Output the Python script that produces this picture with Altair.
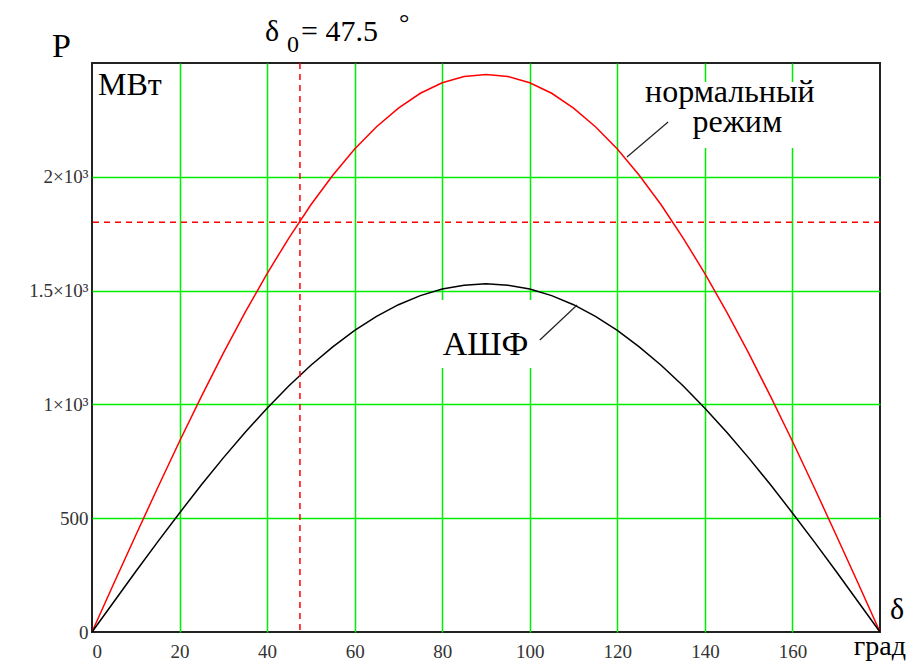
import altair as alt
import pandas as pd

# angle (degrees)
delta = [0, 5, 10, 15, 20, 25, 30, 35, 40, 45, 50, 55, 60, 65, 70, 75, 80, 85, 90,
         95, 100, 105, 110, 115, 120, 125, 130, 135, 140, 145, 150, 155, 160, 165, 170, 175, 180]
# normal mode, MW
p_normal = [0, 214, 425, 634, 838, 1035, 1225, 1405, 1575, 1732, 1877, 2007, 2122, 2220, 2302, 2367, 2413, 2441, 2450,
            2441, 2413, 2367, 2302, 2220, 2122, 2007, 1877, 1732, 1575, 1405, 1225, 1035, 838, 634, 425, 214, 0]
# АШФ, MW
p_ashf = [0, 133, 266, 396, 523, 647, 765, 878, 983, 1082, 1172, 1253, 1325, 1387, 1438, 1478, 1507, 1524, 1530,
          1524, 1507, 1478, 1438, 1387, 1325, 1253, 1172, 1082, 983, 878, 765, 647, 523, 396, 266, 133, 0]

delta0 = [47.5]
p0 = [1800]

x_ticks = [0, 20, 40, 60, 80, 100, 120, 140, 160, 180]
y_ticks = [0, 500, 1000, 1500, 2000, 2500]

# annotation boxes / leaders (data coords)
box_x = [121.7, 78.6]
box_x2 = [169.7, 102.3]
box_y = [2416, 1459]
box_y2 = [2127, 1160]
lead_x = [122.2, 102.3]
lead_x2 = [131.6, 110.8]
lead_y = [2087, 1283]
lead_y2 = [2241, 1437]
lab_text = ["нормальный", "режим", "АШФ"]
lab_x = [145.7, 147.4, 89.9]
lab_y = [2328, 2197, 1217]

FONT = "Liberation Serif"
W, H = 788, 569

xs = alt.Scale(domain=[0, 180], nice=False, zero=False)
ys = alt.Scale(domain=[0, 2500], nice=False, zero=False)

df_n = pd.DataFrame({"delta": delta, "P": p_normal})
df_a = pd.DataFrame({"delta": delta, "P": p_ashf})

grid_x = {"condition": {"test": "datum.value == 0 || datum.value == 180", "value": "transparent"}, "value": "#00ee00"}
grid_y = {"condition": {"test": "datum.value == 0 || datum.value == 2500", "value": "transparent"}, "value": "#00ee00"}

x_axis = alt.Axis(values=x_ticks, grid=True, gridColor=grid_x, gridWidth=1.5,
                  domain=False, ticks=False, labelFont=FONT, labelFontSize=19,
                  labelColor="#333333", labelPadding=10, title=None,
                  labelExpr="datum.value == 180 ? '' : datum.label")
y_axis = alt.Axis(values=y_ticks, grid=True, gridColor=grid_y, gridWidth=1.5,
                  domain=False, ticks=False, labelFont=FONT, labelFontSize=19,
                  labelColor="#333333", labelPadding=4, title=None,
                  labelExpr="datum.value == 2500 ? '' : (datum.value >= 1000 ? format(datum.value/1000, '') + '×10³' : datum.label)")

red = alt.Chart(df_n).mark_line(strokeWidth=1.5, color="#ff0000").encode(
    x=alt.X("delta:Q", scale=xs, axis=x_axis),
    y=alt.Y("P:Q", scale=ys, axis=y_axis),
)
black = alt.Chart(df_a).mark_line(strokeWidth=1.5, color="#000000").encode(
    x=alt.X("delta:Q", scale=xs), y=alt.Y("P:Q", scale=ys))

boxes = alt.Chart(pd.DataFrame({"x": box_x, "x2": box_x2, "y": box_y, "y2": box_y2})).mark_rect(
    fill="white").encode(
    x=alt.X("x:Q", scale=xs), x2="x2", y=alt.Y("y:Q", scale=ys), y2="y2")

leaders = alt.Chart(pd.DataFrame({"x": lead_x, "x2": lead_x2, "y": lead_y, "y2": lead_y2})).mark_rule(
    color="#222222", strokeWidth=1.2).encode(
    x=alt.X("x:Q", scale=xs), x2="x2", y=alt.Y("y:Q", scale=ys), y2="y2")

vdash = alt.Chart(pd.DataFrame({"d": delta0})).mark_rule(
    color="#ff0000", strokeDash=[6, 5], strokeWidth=1.5).encode(x=alt.X("d:Q", scale=xs))
hdash = alt.Chart(pd.DataFrame({"p": p0})).mark_rule(
    color="#ff0000", strokeDash=[6, 5], strokeWidth=1.5).encode(y=alt.Y("p:Q", scale=ys))


def dtext(t, x, y, size):
    return alt.Chart(pd.DataFrame({"t": [t], "x": [x], "y": [y]})).mark_text(
        font=FONT, fontSize=size, align="center", baseline="alphabetic").encode(
        x=alt.X("x:Q", scale=xs), y=alt.Y("y:Q", scale=ys), text="t:N")


def ptext(t, x, y, size, align="left"):
    return alt.Chart(pd.DataFrame({"t": [t]})).mark_text(
        font=FONT, fontSize=size, align=align, baseline="alphabetic").encode(
        x=alt.value(x), y=alt.value(y), text="t:N")


texts = [dtext(t, x, y, s) for t, x, y, s in zip(lab_text, lab_x, lab_y, [32, 32, 34])] + [
    ptext("P", -40, -6, 34),
    ptext("МВт", 6, 32, 32),
    ptext("δ", 173, -22, 30),
    ptext("0", 195, -11, 24),
    ptext("= 47.5", 209, -22, 30),
    ptext("°", 307, -32, 26),
    ptext("δ", 798, 556, 30),
    ptext("град", 814, 592, 28, align="right"),
]

chart = alt.layer(red, black, boxes, vdash, hdash, leaders, *texts).properties(
    width=W, height=H,
    background="white",
    autosize=alt.AutoSizeParams(type="none"),
    padding={"left": 84, "top": 55, "right": 28, "bottom": 32},
).configure_view(stroke="#222222", strokeWidth=2)

chart.save("out.html", embed_options={"renderer": "svg", "actions": False})
